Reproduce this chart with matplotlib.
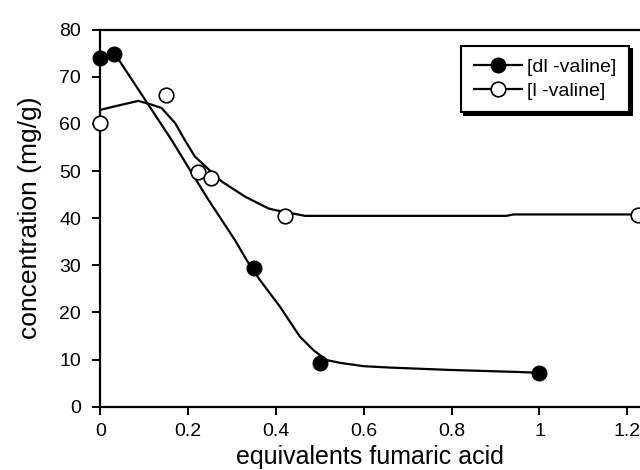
import matplotlib.pyplot as plt
from matplotlib.lines import Line2D

plt.rcParams['font.family'] = ['Liberation Sans', 'DejaVu Sans']

# measured points
dl_x = [0.0, 0.03, 0.35, 0.5, 1.0]
dl_y = [74.1, 74.9, 29.4, 9.2, 7.2]
l_x = [0.0, 0.15, 0.222, 0.252, 0.42, 1.224]
l_y = [60.3, 66.2, 49.8, 48.5, 40.4, 40.7]

# fitted curves
dl_curve_x = [0.03, 0.039, 0.109, 0.162, 0.208, 0.246, 0.306, 0.333, 0.363, 0.409,
              0.454, 0.485, 0.515, 0.546, 0.599, 0.66, 0.796, 0.94, 1.0]
dl_curve_y = [74.8, 74.0, 64.1, 56.6, 49.6, 43.9, 35.4, 31.1, 26.9, 21.2,
              14.9, 12.0, 9.9, 9.3, 8.6, 8.3, 7.8, 7.4, 7.2]
l_curve_x = [0.0, 0.026, 0.086, 0.113, 0.139, 0.17, 0.192, 0.215, 0.276, 0.329,
             0.382, 0.394, 0.466, 0.925, 0.94, 1.229]
l_curve_y = [63.0, 63.6, 64.9, 64.2, 63.4, 60.2, 56.6, 53.1, 47.8, 44.6,
             42.1, 41.8, 40.5, 40.5, 40.8, 40.8]

xticks = [0, 0.2, 0.4, 0.6, 0.8, 1, 1.2]
xtick_labels = ['0', '0.2', '0.4', '0.6', '0.8', '1', '1.2']
yticks = [0, 10, 20, 30, 40, 50, 60, 70, 80]

fig = plt.figure(figsize=(6.4, 4.7), dpi=100)
ax = fig.add_axes([0.157, 0.1347, 0.843, 0.802])

ax.plot(dl_curve_x, dl_curve_y, color='black', lw=1.6, clip_on=False)
ax.plot(l_curve_x, l_curve_y, color='black', lw=1.6, clip_on=False)
ax.plot(dl_x, dl_y, 'o', color='black', ms=10.5, clip_on=False, zorder=3)
ax.plot(l_x, l_y, 'o', mfc='white', mec='black', mew=1.2, ms=10.5, clip_on=False, zorder=3)

ax.set_xlim(0, 1.229)
ax.set_ylim(0, 80)
ax.set_xticks(xticks)
ax.set_xticklabels(xtick_labels)
ax.set_yticks(yticks)
ax.spines['right'].set_visible(False)
for s in ['left', 'bottom', 'top']:
    ax.spines[s].set_linewidth(1.6)
ax.tick_params(direction='out', length=6, width=1.4, labelsize=14, pad=6)
ax.tick_params(axis='y', pad=8)
ax.set_xlabel('equivalents fumaric acid', fontsize=18, labelpad=3)
ax.set_ylabel('concentration (mg/g)', fontsize=19, labelpad=12)

handles = [
    Line2D([], [], color='black', lw=1.6, marker='o', ms=10.5, mfc='black', mec='black'),
    Line2D([], [], color='black', lw=1.6, marker='o', ms=10.5, mfc='white', mec='black', mew=1.2),
]
leg = ax.legend(handles, ['[dl -valine]', '[l -valine]'], loc='upper right',
                bbox_to_anchor=(0.98, 0.957), fontsize=14, fancybox=False,
                framealpha=1, edgecolor='black', handlelength=2.5,
                handletextpad=0.25, borderpad=0.65, labelspacing=0.3,
                borderaxespad=0,
                shadow={'facecolor': 'black', 'edgecolor': 'black', 'alpha': 1})
leg.get_frame().set_linewidth(1.5)

fig.savefig('out.png', dpi=100)
